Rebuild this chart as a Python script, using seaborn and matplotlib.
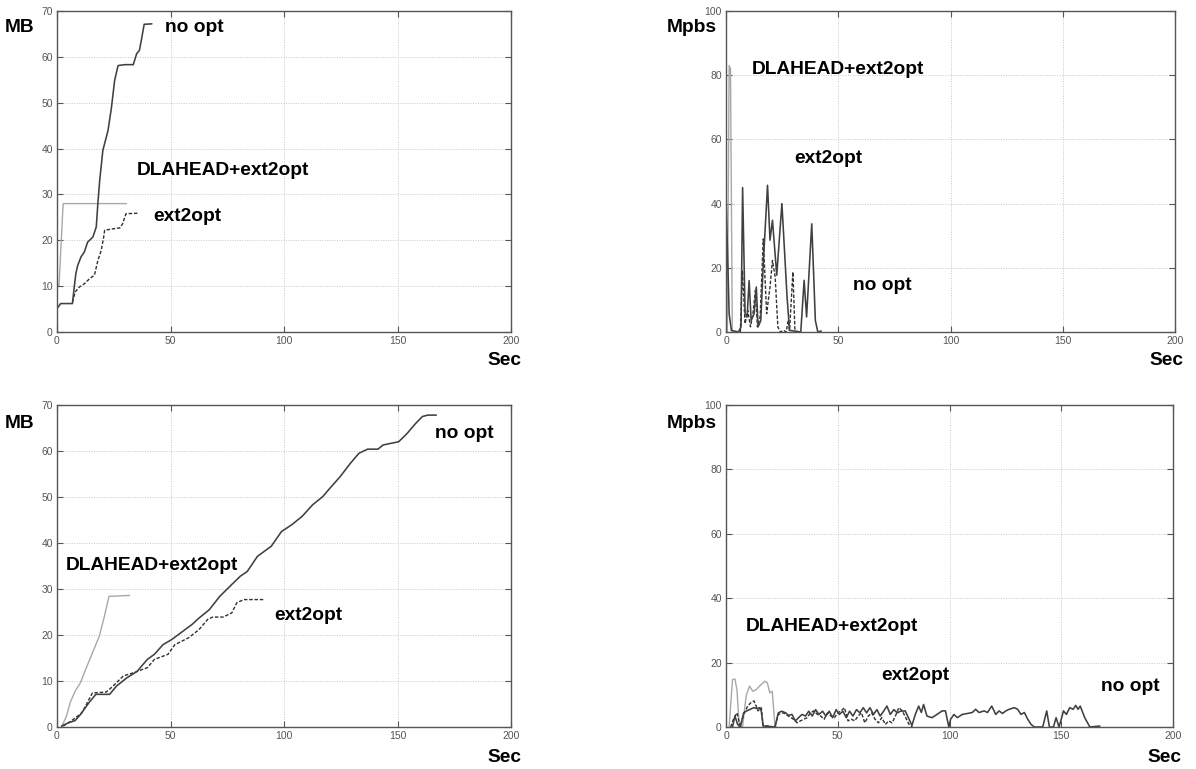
import matplotlib
matplotlib.use("Agg")
import matplotlib.pyplot as plt
import seaborn as sns
import numpy as np

# ---------------- data ----------------
# Top-left: cumulative MB vs Sec
tl_noopt_x = [0, 0.6, 1.6, 6.8, 7.6, 8.3, 9.1, 10.6, 12, 13.5, 15.8, 17.3, 18, 18.8, 20.2, 22.5, 24, 25.4, 26.9, 29.9, 33.6, 35.1, 36.3, 37.4, 38.4, 41.8]
tl_noopt_y = [5.2, 5.5, 6.2, 6.2, 9.8, 12.7, 14.5, 16.4, 17.4, 19.6, 20.7, 22.9, 28, 33, 39.6, 44, 49, 54.9, 58.1, 58.3, 58.3, 60.7, 61.4, 64.3, 67.1, 67.2]
tl_ext_x = [6.8, 8, 9.8, 12, 14.3, 16.5, 18, 19.5, 20.5, 21, 24.7, 27.7, 28.9, 30.4, 35.9]
tl_ext_y = [6.5, 8.7, 9.8, 10.5, 11.6, 12.4, 15.6, 17.8, 20.5, 22.2, 22.5, 22.7, 23.6, 25.8, 25.9]
tl_dla_x = [0.2, 0.9, 2.7, 30.6]
tl_dla_y = [10.2, 10.2, 28, 28]

# Top-right: throughput Mpbs vs Sec
tr_noopt_x = [0, 1.4, 2.4, 5.5, 6.7, 7.4, 8.5, 9.4, 10.3, 11.2, 12.5, 13.5, 14.3, 15.5, 16.6, 18.5, 19.6, 20.7, 22.6, 24.9, 27.2, 28.3, 33.3, 34.8, 35.9, 38.2, 39.8, 40.9, 42.4]
tr_noopt_y = [43, 5.7, 0.5, 0, 1.6, 45, 5.7, 4.7, 16, 3.6, 5.7, 14, 1.6, 3.6, 21.3, 45.7, 28.6, 34.8, 17.7, 40, 10.9, 0.5, 0, 16.1, 4.7, 33.7, 3.6, 0, 0.3]
tr_ext_x = [6.4, 7.3, 8.5, 9.7, 10.9, 12, 13.1, 14, 15.2, 16.6, 18.1, 19.6, 20.7, 21.9, 23.1, 24.2, 25.7, 26.8, 27.7, 28.3, 29.8, 30.7, 31.8]
tr_ext_y = [0, 19.2, 2.6, 6.7, 1.6, 5.7, 13, 1.6, 4.7, 29, 5.7, 14, 22.3, 17.1, 1.6, 0, 0.5, 0, 3.6, 0.5, 18.7, 0.5, 0]
tr_dla_x = [0.6, 1.4, 2.0, 2.8]
tr_dla_y = [0, 83, 82, 0]

# Bottom-left: cumulative MB vs Sec
bl_noopt_x = [2, 5, 8, 10.3, 14.1, 17.1, 23.2, 26.2, 30.8, 35.3, 39.8, 42.9, 46.7, 50.5, 56.5, 59.5, 62.6, 67.1, 71.7, 76.2, 80.8, 83.8, 88.3, 94.4, 98.9, 103.5, 108, 112.6, 117.1, 120.2, 124.7, 129.2, 133, 136.8, 141.4, 143.6, 147.4, 150.5, 154.2, 158, 161, 163.3, 167.1]
bl_noopt_y = [0.2, 0.9, 1.4, 2.7, 5.3, 7.1, 7.1, 8.9, 10.7, 12.1, 14.7, 15.8, 17.9, 19, 21.2, 22.3, 23.7, 25.5, 28.4, 30.6, 32.8, 33.8, 37.1, 39.3, 42.5, 44, 45.8, 48.3, 50.1, 51.9, 54.4, 57.3, 59.5, 60.4, 60.4, 61.3, 61.7, 62, 63.8, 66, 67.5, 67.8, 67.8]
bl_ext_x = [2.7, 6.5, 11, 15.6, 21.7, 24.7, 29.2, 33.8, 39.8, 42.9, 48.9, 51.9, 58, 62.6, 66.4, 68.6, 73.2, 77, 79.2, 82.3, 91.4]
bl_ext_y = [0.2, 1.4, 3.1, 7.4, 7.6, 8.9, 11.1, 11.8, 12.9, 14.7, 15.8, 17.9, 19.4, 21.2, 23.4, 23.9, 23.9, 24.8, 27, 27.7, 27.7]
bl_dla_x = [2, 4.2, 5.8, 8, 10.3, 12.6, 15.6, 18.6, 20.9, 22.9, 32]
bl_dla_y = [0, 2.4, 5.3, 7.8, 9.6, 12.5, 16.1, 19.7, 24.1, 28.4, 28.6]

# Bottom-right: throughput Mpbs vs Sec
br_noopt_x = [2.9, 4, 5.2, 6.4, 7.9, 9, 10.5, 12.5, 14, 15, 15.8, 16.6, 21.9, 23.4, 24.9, 26.7, 27.9, 29.5, 31, 32.5, 34, 35.6, 37, 38.6, 40.1, 41.6, 43.2, 44.7, 46.2, 47.7, 49.3, 50.7, 52.3, 53.8, 55.3, 56.8, 58.4, 59.9, 61.4, 62.9, 64.4, 66, 67.5, 69, 70.5, 72, 73.5, 75.1, 76.6, 78.1, 80.2, 83.2, 84.7, 86.2, 87.4, 88.4, 89.9, 92.2, 94.4, 96.7, 98.2, 99.7, 100.5, 102, 103.5, 105.7, 108, 110.2, 111.7, 113.2, 115.5, 117, 118.9, 120.7, 122.2, 123.7, 125.2, 126.7, 129, 130.5, 132, 133.5, 135, 136.5, 138, 141.7, 143.5, 144.7, 146.5, 147.7, 149, 150, 151, 152.3, 153.8, 155.3, 156.5, 157.5, 158.5, 160.5, 162.8, 167.3]
br_noopt_y = [0, 3.4, 0.8, 0, 4.4, 4.9, 5.4, 6, 5.7, 6, 4.9, 0.3, 0, 4.4, 4.9, 4.4, 3.6, 3.9, 1.9, 2.9, 3.9, 3.4, 4.9, 3.4, 5.4, 3.9, 4.9, 3.4, 4.9, 2.9, 5.4, 3.9, 4.9, 2.9, 4.9, 3.4, 5.4, 4.4, 6, 4.4, 6, 3.9, 5.4, 3.4, 4.9, 6.5, 3.9, 5.4, 4.4, 4.9, 5, 0.5, 3.9, 6.5, 4.5, 7, 3.4, 2.9, 3.9, 5, 5, 0, 2.4, 3.9, 2.9, 3.9, 4.2, 4.5, 5.5, 4.5, 5, 4.5, 6.5, 3.9, 5, 4.2, 5, 5.5, 6, 5.5, 3.9, 4.5, 2.4, 0.8, 0, 0, 5, 0, 0, 2.9, 0, 2.4, 5, 3.9, 6, 5.5, 6.7, 5.5, 6.5, 2.9, 0, 0.3]
br_ext_x = [2.1, 3.3, 4.9, 6.4, 7.9, 9.7, 11.2, 12.5, 13.5, 14.3, 15.8, 16.6, 21.9, 23.4, 25.7, 27.9, 30.2, 31.8, 33.3, 34.8, 36.3, 37.8, 39.3, 40.9, 42.4, 43.9, 45.4, 47, 48.5, 50, 51.5, 53, 54.6, 56.1, 57.6, 59.1, 60.6, 62.1, 63.7, 65.2, 66.7, 68.2, 69.7, 71.3, 72.8, 74.3, 75.8, 77.3, 78.9, 80.4, 81.9, 83.4]
br_ext_y = [0, 2.4, 4.4, 0.2, 3.9, 6.5, 7.6, 8.1, 6.5, 5, 6, 0.5, 0, 3.9, 4.4, 3.4, 2.4, 1.3, 1.9, 2.4, 2.9, 4.4, 5, 3.9, 3.4, 2.4, 4.4, 3.4, 2.9, 4.4, 5, 6, 1.9, 2.4, 1.9, 3.4, 4.4, 1.3, 3.4, 4.4, 2.4, 1.3, 2.9, 0.8, 1.9, 1.3, 3.4, 6, 5, 2.9, 0.8, 0]
br_dla_x = [1.4, 2.9, 4, 4.9, 5.9, 7.4, 9, 10.5, 12, 13.5, 15, 17.3, 18.5, 19.6, 20.7, 21.9, 22.6]
br_dla_y = [0, 14.7, 14.9, 11.6, 0.3, 0.1, 9.6, 12.7, 11.1, 11.6, 12.7, 14.2, 13.7, 10.6, 11.1, 0.3, 0]

x_ticks = [0, 50, 100, 150, 200]
mb_ticks = [0, 10, 20, 30, 40, 50, 60, 70]
mpbs_ticks = [0, 20, 40, 60, 80, 100]

label_noopt = "no opt"
label_ext = "ext2opt"
label_dla = "DLAHEAD+ext2opt"

# ---------------- style ----------------
sns.set_theme(style="white")
plt.rcParams['font.family'] = ['Liberation Sans', 'DejaVu Sans']

W, H = 1196, 769
fig = plt.figure(figsize=(W / 100, H / 100), dpi=100)
fig.patch.set_facecolor("white")

def rect(l, t, r, b):
    return [l / W, 1 - b / H, (r - l) / W, (b - t) / H]

ax_tl = fig.add_axes(rect(57, 11, 511, 332))
ax_tr = fig.add_axes(rect(726, 11, 1175, 332))
ax_bl = fig.add_axes(rect(57, 405, 511, 727))
ax_br = fig.add_axes(rect(726, 405, 1173, 727))

c_noopt = "#404040"
c_ext = "#303030"
c_dla = "#a8a8a8"

def draw(ax, nx, ny, ex, ey, dx, dy, yticks):
    sns.lineplot(x=dx, y=dy, ax=ax, color=c_dla, lw=1.0, estimator=None, sort=False)
    sns.lineplot(x=ex, y=ey, ax=ax, color=c_ext, lw=1.0, estimator=None, sort=False,
                 linestyle=(0, (2.5, 1.3)))
    sns.lineplot(x=nx, y=ny, ax=ax, color=c_noopt, lw=1.15, estimator=None, sort=False)
    ax.set_xlim(0, 200)
    ax.set_ylim(yticks[0], yticks[-1])
    ax.set_xticks(x_ticks)
    ax.set_yticks(yticks)
    ax.set_xticklabels([str(t) for t in x_ticks])
    ax.set_yticklabels([str(t) for t in yticks])
    ax.grid(True, color="#c8c8c8", linestyle=(0, (1, 1.5)), lw=0.7)
    ax.tick_params(axis="both", direction="in", length=4, width=0.8, color="#555555",
                   labelsize=7.5, labelcolor="#555555", top=True, right=True,
                   bottom=True, left=True, pad=3)
    for s in ax.spines.values():
        s.set_color("#555555")
        s.set_linewidth(1.0)
        s.set_visible(True)
    ax.set_xlabel("")
    ax.set_ylabel("")
    ax.set_facecolor("white")

draw(ax_tl, tl_noopt_x, tl_noopt_y, tl_ext_x, tl_ext_y, tl_dla_x, tl_dla_y, mb_ticks)
draw(ax_tr, tr_noopt_x, tr_noopt_y, tr_ext_x, tr_ext_y, tr_dla_x, tr_dla_y, mpbs_ticks)
draw(ax_bl, bl_noopt_x, bl_noopt_y, bl_ext_x, bl_ext_y, bl_dla_x, bl_dla_y, mb_ticks)
draw(ax_br, br_noopt_x, br_noopt_y, br_ext_x, br_ext_y, br_dla_x, br_dla_y, mpbs_ticks)

tkw = dict(fontsize=13.8, fontweight="bold", color="black", va="center", ha="left")

ax_tl.text(47.6, 66.3, label_noopt, **tkw)
ax_tl.text(35.2, 35.3, label_dla, **tkw)
ax_tl.text(42.3, 25.1, label_ext, **tkw)

ax_tr.text(11.6, 81.9, label_dla, **tkw)
ax_tr.text(30.3, 54.2, label_ext, **tkw)
ax_tr.text(56.6, 14.6, label_noopt, **tkw)

ax_bl.text(166.5, 63.7, label_noopt, **tkw)
ax_bl.text(4.0, 35.2, label_dla, **tkw)
ax_bl.text(95.6, 24.3, label_ext, **tkw)

ax_br.text(8.9, 31.1, label_dla, **tkw)
ax_br.text(69.5, 16.1, label_ext, **tkw)
ax_br.text(167.9, 12.7, label_noopt, **tkw)

lkw = dict(fontsize=13.8, fontweight="bold", color="black", va="center")
fig.text(5 / W, 1 - 28 / H, "MB", ha="left", **lkw)
fig.text(667 / W, 1 - 28 / H, "Mpbs", ha="left", **lkw)
fig.text(5 / W, 1 - 423 / H, "MB", ha="left", **lkw)
fig.text(667 / W, 1 - 423 / H, "Mpbs", ha="left", **lkw)
fig.text(521 / W, 1 - 360 / H, "Sec", ha="right", **lkw)
fig.text(1183 / W, 1 - 360 / H, "Sec", ha="right", **lkw)
fig.text(521 / W, 1 - 757 / H, "Sec", ha="right", **lkw)
fig.text(1181 / W, 1 - 757 / H, "Sec", ha="right", **lkw)

fig.savefig("out.png", dpi=100, facecolor="white")
